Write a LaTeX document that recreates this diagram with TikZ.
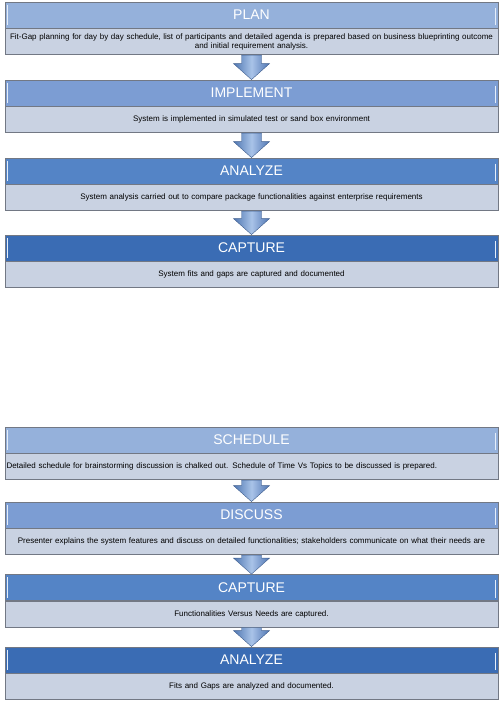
\documentclass[tikz,border=0pt]{standalone}
\usepackage{fontspec}
\setmainfont{Liberation Sans}
\usepackage{tikz}
\usetikzlibrary{calc}
\usepackage{xcolor}
\definecolor{colplan}{HTML}{95B1DB}
\definecolor{colimpl}{HTML}{7C9DD3}
\definecolor{colanal}{HTML}{5484C6}
\definecolor{colcapt}{HTML}{3A6CB4}
\definecolor{coldesc}{HTML}{C9D2E2}
\definecolor{coledge}{HTML}{727884}
\definecolor{colarrd}{HTML}{4F76B2}
\definecolor{colarrl}{HTML}{A9C3E8}
\newcommand{\bajada}[2]{%
  \path (#1.south) coordinate (s) (#2.north) coordinate (e);
  \draw[colarrd!80!black,line width=0.4pt,left color=colarrd,right color=colarrd,middle color=colarrl]
    ($(s)+(-10pt,0)$) -- ($(e)+(-10pt,16pt)$) -- ($(e)+(-18pt,16pt)$) -- (e)
    -- ($(e)+(18pt,16pt)$) -- ($(e)+(10pt,16pt)$) -- ($(s)+(10pt,0)$) -- cycle;}

\begin{document}
\begin{tikzpicture}[
  x=1pt,y=-1pt,
  ttl/.style={draw=coledge,line width=0.8pt,minimum width=493pt,minimum height=26pt,
    inner sep=0pt,text=white,font=\fontsize{14}{16}\selectfont},
  desc/.style={draw=coledge,line width=0.8pt,fill=coldesc,minimum width=493pt,minimum height=26pt,
    inner sep=1pt,text width=490pt,align=center,font=\fontsize{8}{9}\selectfont},
  shine/.style={white!70!colarrl,line width=1.2pt},
]
  \useasboundingbox (0,0) rectangle (503,703);
  % ---- grupo superior ----
  \node[ttl,fill=colplan]  (plan)  at (251.5,15)  {PLAN};
  \node[desc,anchor=north] (plantxt) at (plan.south)
    {Fit-Gap planning for day by day schedule, list of participants and detailed agenda is prepared based on business blueprinting outcome\\ and initial requirement analysis.};
  \node[ttl,fill=colimpl]  (impl)  at (251.5,93)  {IMPLEMENT};
  \node[desc,anchor=north] (impltxt) at (impl.south)
    {System is implemented in simulated test or sand box environment};
  \node[ttl,fill=colanal]  (anal)  at (251.5,171) {ANALYZE};
  \node[desc,anchor=north] (analtxt) at (anal.south)
    {System analysis carried out to compare package functionalities against enterprise requirements};
  \node[ttl,fill=colcapt]  (capt)  at (251.5,248) {CAPTURE};
  \node[desc,anchor=north] (capttxt) at (capt.south)
    {System fits and gaps are captured and documented};
  \bajada{plantxt}{impl}
  \bajada{impltxt}{anal}
  \bajada{analtxt}{capt}
  % ---- grupo inferior ----
  \node[ttl,fill=colplan]  (sched) at (251.5,440) {SCHEDULE};
  \node[desc,anchor=north,align=left] (schedtxt) at (sched.south)
    {Detailed schedule for brainstorming discussion is chalked out. Schedule of Time Vs Topics to be discussed is prepared.};
  \node[ttl,fill=colimpl]  (disc)  at (251.5,515) {DISCUSS};
  \node[desc,anchor=north] (disctxt) at (disc.south)
    {Presenter explains the system features and discuss on detailed functionalities; stakeholders communicate on what their needs are};
  \node[ttl,fill=colanal]  (capt2) at (251.5,587.5) {CAPTURE};
  \node[desc,anchor=north] (capt2txt) at (capt2.south)
    {Functionalities Versus Needs are captured.};
  \node[ttl,fill=colcapt]  (anal2) at (251.5,660) {ANALYZE};
  \node[desc,anchor=north] (anal2txt) at (anal2.south)
    {Fits and Gaps are analyzed and documented.};
  \bajada{schedtxt}{disc}
  \bajada{disctxt}{capt2}
  \bajada{capt2txt}{anal2}
  % ---- brillos en los bordes ----
  \foreach \n in {plan,impl,anal,capt,sched,disc,capt2,anal2}{
    \draw[shine] ([shift={(3pt,-3pt)}]\n.north west) -- ([shift={(3pt,3pt)}]\n.south west);
    \draw[shine] ([shift={(-3pt,-6pt)}]\n.north east) -- ([shift={(-3pt,3pt)}]\n.south east);
  }
\end{tikzpicture}
\end{document}
